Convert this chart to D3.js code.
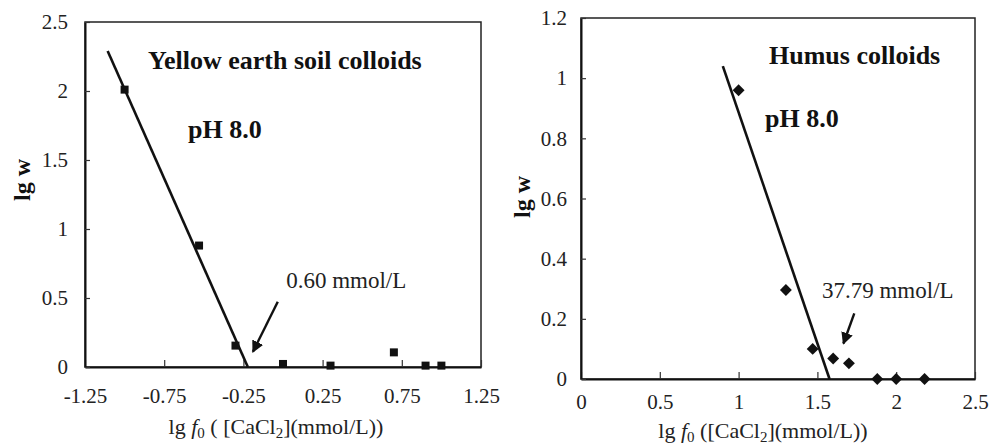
<!DOCTYPE html>
<html>
<head>
<meta charset="utf-8">
<script src="https://cdn.jsdelivr.net/npm/d3@7/dist/d3.min.js"></script>
<style>
  html, body { margin: 0; padding: 0; background: #fff; }
</style>
</head>
<body>
<svg id="chart" width="1000" height="448" font-family="Liberation Serif, Times New Roman, serif"></svg>
<script>
// ---- Yellow earth soil colloids (pH 8.0) ----
const yellowX = [-1.0, -0.53, -0.30, 0.0, 0.30, 0.70, 0.90, 1.0];
const yellowY = [2.01, 0.88, 0.155, 0.022, 0.01, 0.106, 0.01, 0.01];
const yellowFitX = [-1.107, -0.222];
const yellowFitY = [2.29, 0];
const yellowXTicks = [-1.25, -0.75, -0.25, 0.25, 0.75, 1.25];
const yellowXTickLabels = ["-1.25", "-0.75", "-0.25", "0.25", "0.75", "1.25"];
const yellowYTicks = [0, 0.5, 1, 1.5, 2, 2.5];
const yellowYTickLabels = ["0", "0.5", "1", "1.5", "2", "2.5"];

// ---- Humus colloids (pH 8.0) ----
const humusX = [1.0, 1.30, 1.47, 1.60, 1.70, 1.88, 2.0, 2.18];
const humusY = [0.96, 0.296, 0.10, 0.068, 0.052, 0, 0, 0];
const humusFitX = [0.90, 1.577];
const humusFitY = [1.04, 0];
const humusXTicks = [0, 0.5, 1, 1.5, 2, 2.5];
const humusXTickLabels = ["0", "0.5", "1", "1.5", "2", "2.5"];
const humusYTicks = [0, 0.2, 0.4, 0.6, 0.8, 1, 1.2];
const humusYTickLabels = ["0", "0.2", "0.4", "0.6", "0.8", "1", "1.2"];

const FONT = "Liberation Serif, Times New Roman, serif";
const svg = d3.select("#chart");

svg.append("defs").append("marker")
  .attr("id", "arrowhead")
  .attr("viewBox", "0 0 10 10")
  .attr("refX", 9).attr("refY", 5)
  .attr("markerWidth", 5).attr("markerHeight", 5)
  .attr("markerUnits", "strokeWidth")
  .attr("orient", "auto")
  .append("path")
  .attr("d", "M0,0 L10,5 L0,10 Z")
  .attr("fill", "#111");

function styleAxis(sel) {
  sel.attr("font-family", FONT).attr("font-size", 21);
  sel.selectAll(".tick text")
    .attr("font-family", FONT).attr("font-size", 21).attr("fill", "#222");
  sel.selectAll(".tick line").attr("stroke", "#333").attr("stroke-width", 1.2);
}

function drawPanel(cfg) {
  const x = d3.scaleLinear().domain(cfg.xDomain).range([cfg.left, cfg.right]);
  const y = d3.scaleLinear().domain(cfg.yDomain).range([cfg.bottom, cfg.top]);
  const g = svg.append("g");

  // frame
  g.append("rect")
    .attr("x", cfg.left).attr("y", cfg.top)
    .attr("width", cfg.right - cfg.left).attr("height", cfg.bottom - cfg.top)
    .attr("fill", "none").attr("stroke", "#222").attr("stroke-width", 1.5);

  // axes with inward ticks
  const xAxis = d3.axisBottom(x)
    .tickValues(cfg.xTicks)
    .tickFormat((d, i) => cfg.xTickLabels[i])
    .tickSizeInner(-7).tickSizeOuter(0).tickPadding(cfg.xPad);
  const ax = g.append("g").attr("transform", `translate(0,${cfg.bottom})`).call(xAxis);
  styleAxis(ax);
  ax.select(".domain").attr("stroke", "#111").attr("stroke-width", 2.2);

  const yAxis = d3.axisLeft(y)
    .tickValues(cfg.yTicks)
    .tickFormat((d, i) => cfg.yTickLabels[i])
    .tickSizeInner(-5).tickSizeOuter(0).tickPadding(cfg.yPad);
  const ay = g.append("g").attr("transform", `translate(${cfg.left},0)`).call(yAxis);
  styleAxis(ay);
  ay.select(".domain").attr("stroke", "#111").attr("stroke-width", 2);

  // fitted line
  const fit = cfg.fitX.map((v, i) => [v, cfg.fitY[i]]);
  g.append("path")
    .datum(fit)
    .attr("d", d3.line().x(d => x(d[0])).y(d => y(d[1])))
    .attr("fill", "none").attr("stroke", "#111").attr("stroke-width", 2.6);

  // data markers
  const pts = cfg.xs.map((v, i) => [v, cfg.ys[i]]);
  g.selectAll("path.pt").data(pts).join("path")
    .attr("class", "pt")
    .attr("transform", d => `translate(${x(d[0])},${y(d[1])})`)
    .attr("d", d3.symbol().type(cfg.symbol).size(cfg.symbolSize))
    .attr("fill", "#111");

  // arrow annotation
  g.append("line")
    .attr("x1", x(cfg.arrow[0])).attr("y1", y(cfg.arrow[1]))
    .attr("x2", x(cfg.arrow[2])).attr("y2", y(cfg.arrow[3]))
    .attr("stroke", "#111").attr("stroke-width", 2.4)
    .attr("marker-end", "url(#arrowhead)");
  g.append("text")
    .attr("x", x(cfg.noteAt[0])).attr("y", y(cfg.noteAt[1]))
    .attr("font-family", FONT).attr("font-size", 23).attr("fill", "#222")
    .text(cfg.note);

  // panel titles
  g.append("text")
    .attr("x", x(cfg.titleAt[0])).attr("y", y(cfg.titleAt[1]))
    .attr("font-family", FONT).attr("font-size", 26).attr("font-weight", "bold").attr("fill", "#111")
    .text(cfg.title);
  g.append("text")
    .attr("x", x(cfg.phAt[0])).attr("y", y(cfg.phAt[1]))
    .attr("font-family", FONT).attr("font-size", 26).attr("font-weight", "bold").attr("fill", "#111")
    .text("pH 8.0");

  // axis titles
  g.append("text")
    .attr("transform", `translate(${cfg.yLabelPos[0]},${cfg.yLabelPos[1]}) rotate(-90)`)
    .attr("text-anchor", "middle").attr("dy", "0.35em")
    .attr("font-family", FONT).attr("font-size", 24).attr("font-weight", "bold").attr("fill", "#111")
    .text("lg w");

  const xl = g.append("text")
    .attr("x", cfg.xLabelPos[0]).attr("y", cfg.xLabelPos[1])
    .attr("text-anchor", "middle")
    .attr("font-family", FONT).attr("font-size", 22).attr("fill", "#222");
  xl.append("tspan").text("lg ");
  xl.append("tspan").attr("font-style", "italic").text("f");
  xl.append("tspan").attr("font-size", 15).attr("dy", 4).text("0");
  xl.append("tspan").attr("dy", -4).text(cfg.xLabelMid);
  xl.append("tspan").attr("font-size", 15).attr("dy", 4).text("2");
  xl.append("tspan").attr("dy", -4).text("](mmol/L))");
}

drawPanel({
  left: 85, right: 481, top: 22, bottom: 367,
  xDomain: [-1.25, 1.25], yDomain: [0, 2.5],
  xTicks: yellowXTicks, xTickLabels: yellowXTickLabels,
  yTicks: yellowYTicks, yTickLabels: yellowYTickLabels,
  xPad: 21, yPad: 17,
  xs: yellowX, ys: yellowY, symbol: d3.symbolSquare, symbolSize: 64,
  fitX: yellowFitX, fitY: yellowFitY,
  arrow: [-0.033, 0.473, -0.19, 0.11],
  note: "0.60 mmol/L", noteAt: [0.02, 0.572],
  title: "Yellow earth soil colloids", titleAt: [-0.852, 2.16],
  phAt: [-0.60, 1.66],
  yLabelPos: [22, 180],
  xLabelPos: [276, 434], xLabelMid: " ( [CaCl"
});

drawPanel({
  left: 581, right: 975, top: 18, bottom: 379,
  xDomain: [0, 2.5], yDomain: [0, 1.2],
  xTicks: humusXTicks, xTickLabels: humusXTickLabels,
  yTicks: humusYTicks, yTickLabels: humusYTickLabels,
  xPad: 15, yPad: 14,
  xs: humusX, ys: humusY, symbol: d3.symbolDiamond2, symbolSize: 90,
  fitX: humusFitX, fitY: humusFitY,
  arrow: [1.734, 0.218, 1.665, 0.118],
  note: "37.79 mmol/L", noteAt: [1.529, 0.269],
  title: "Humus colloids", titleAt: [1.193, 1.047],
  phAt: [1.168, 0.838],
  yLabelPos: [522, 197],
  xLabelPos: [763, 438], xLabelMid: " ([CaCl"
});
</script>
</body>
</html>
